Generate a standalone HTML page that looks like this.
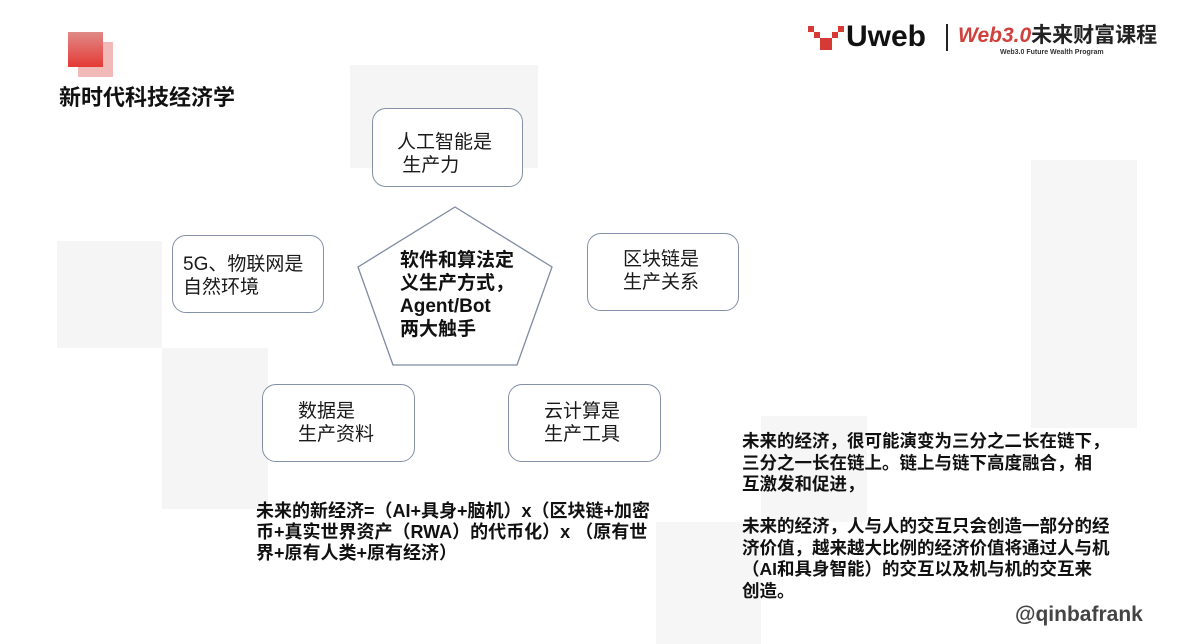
<!DOCTYPE html>
<html><head><meta charset="utf-8"><style>
html,body{margin:0;padding:0;background:#fff;}
body{width:1200px;height:644px;position:relative;overflow:hidden;font-family:"Liberation Sans","Noto Sans CJK SC",sans-serif;color:#111;}
.g{position:absolute;background:#f5f5f5;}
.box{position:absolute;border:1.5px solid #8390a8;border-radius:14px;box-sizing:border-box;background:#fff;}
.t{position:absolute;font-size:19px;line-height:23px;white-space:nowrap;color:#1a1a1a;}
.b{position:absolute;font-weight:bold;white-space:nowrap;}
</style></head><body>
<div class="g" style="left:350px;top:65px;width:188px;height:103px"></div>
<div class="g" style="left:57px;top:241px;width:105px;height:107px"></div>
<div class="g" style="left:162px;top:348px;width:106px;height:161px"></div>
<div class="g" style="left:1031px;top:160px;width:106px;height:268px;background:#f6f6f6"></div>
<div class="g" style="left:761px;top:416px;width:106px;height:106px;background:#f6f6f6"></div>
<div class="g" style="left:656px;top:522px;width:105px;height:122px;background:#f6f6f6"></div>

<div style="position:absolute;left:78px;top:42px;width:35px;height:35px;background:#f2b9b9"></div>
<div style="position:absolute;left:68px;top:32px;width:35px;height:35px;background:linear-gradient(#e08a88,#e53a35)"></div>
<div class="b" style="left:59px;top:85px;font-size:22px;line-height:26px">新时代科技经济学</div>

<svg style="position:absolute;left:808px;top:24px" width="36" height="28" viewBox="0 0 36 28">
<rect x="0" y="2" width="6" height="6" fill="#d63a35"/><rect x="6" y="8" width="6" height="6" fill="#d63a35"/>
<rect x="12" y="14" width="6" height="6" fill="#d63a35"/><rect x="18" y="14" width="6" height="6" fill="#d63a35"/>
<rect x="24" y="8" width="6" height="6" fill="#d63a35"/><rect x="30" y="2" width="6" height="6" fill="#d63a35"/>
<rect x="12" y="20" width="12" height="6" fill="#d63a35"/></svg>
<div class="b" style="left:846px;top:20px;font-size:30px;line-height:34px;color:#111">Uweb</div>
<div style="position:absolute;left:946px;top:24px;width:2px;height:27px;background:#222"></div>
<div class="b" style="left:958px;top:24px;font-size:21px;line-height:24px;color:#d0403c;font-style:italic">Web3.0<span style="color:#222;font-style:normal">未来财富课程</span></div>
<div class="b" style="left:1000px;top:48px;font-size:7px;line-height:9px;color:#333">Web3.0 Future Wealth Program</div>

<svg style="position:absolute;left:0;top:0" width="1200" height="644">
<polygon points="455,207 552,267 517,365 393,365 358,267" fill="#fff" stroke="#7f8aa2" stroke-width="1.3"/>
</svg>
<div class="b" style="left:400px;top:249px;font-size:19px;line-height:23px">软件和算法定<br>义生产方式，<br>Agent/Bot<br>两大触手</div>

<div class="box" style="left:372px;top:108px;width:151px;height:79px"></div>
<div class="t" style="left:397px;top:131px">人工智能是<br>&nbsp;生产力</div>
<div class="box" style="left:172px;top:235px;width:152px;height:78px"></div>
<div class="t" style="left:183px;top:253px">5G、物联网是<br>自然环境</div>
<div class="box" style="left:587px;top:233px;width:152px;height:78px"></div>
<div class="t" style="left:623px;top:248px">区块链是<br>生产关系</div>
<div class="box" style="left:262px;top:384px;width:153px;height:78px"></div>
<div class="t" style="left:298px;top:400px">数据是<br>生产资料</div>
<div class="box" style="left:508px;top:384px;width:153px;height:78px"></div>
<div class="t" style="left:544px;top:400px">云计算是<br>生产工具</div>

<div class="b" style="left:256px;top:501px;font-size:18px;line-height:21px">未来的新经济=（AI+具身+脑机）x（区块链+加密<br>币+真实世界资产（RWA）的代币化）x （原有世<br>界+原有人类+原有经济）</div>

<div class="b" style="left:742px;top:431px;font-size:17.5px;line-height:21.5px">未来的经济，很可能演变为三分之二长在链下，<br>三分之一长在链上。链上与链下高度融合，相<br>互激发和促进，</div>
<div class="b" style="left:742px;top:516px;font-size:17.5px;line-height:21.5px">未来的经济，人与人的交互只会创造一部分的经<br>济价值，越来越大比例的经济价值将通过人与机<br>（AI和具身智能）的交互以及机与机的交互来<br>创造。</div>
<div class="b" style="left:1015px;top:602px;font-size:21px;line-height:26px;color:#444">@qinbafrank</div>
</body></html>
